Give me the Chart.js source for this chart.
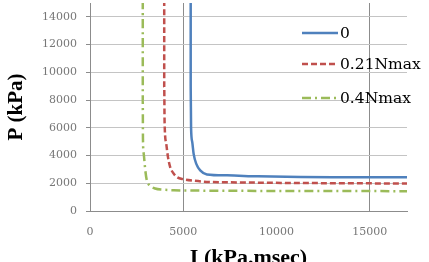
<!DOCTYPE html>
<html>
<head>
<meta charset="utf-8">
<script src="https://cdn.jsdelivr.net/npm/chart.js@4"></script>
<style>
  html, body { margin: 0; padding: 0; background: #fff; }
  #wrap { width: 429px; height: 262px; }
</style>
</head>
<body>
<div id="wrap"><canvas id="myChart"></canvas></div>
<script>
'use strict';

// Data (I in kPa.msec, P in kPa)
let seriesNames = ['0', '0.21Nmax', '0.4Nmax'];

let blueI = [5400, 5400, 5420, 5480, 5560, 5700, 5910, 6270, 7350, 9000, 11300, 14000, 17000];
let blueP = [15200, 9000, 6000, 5000, 4100, 3400, 2930, 2640, 2570, 2500, 2450, 2440, 2430];

let redI = [3980, 3980, 4000, 4090, 4180, 4300, 4460, 4660, 5020, 5600, 6270, 8000, 11000, 14000, 17000];
let redP = [15200, 9000, 6400, 4840, 3900, 3170, 2750, 2450, 2290, 2180, 2100, 2060, 2020, 2000, 1980];

let greenI = [2830, 2830, 2840, 2880, 2960, 3045, 3200, 3495, 3900, 4480, 6000, 9000, 13000, 17000];
let greenP = [15200, 8000, 5200, 4140, 3000, 2210, 1850, 1620, 1540, 1500, 1470, 1450, 1440, 1430];

let yTicks = [0, 2000, 4000, 6000, 8000, 10000, 12000, 14000];
let xTicks = [0, 5000, 10000, 15000];

function toPoints(xs, ys) {
  let pts = [];
  for (let i = 0; i < xs.length; i++) {
    pts.push({ x: xs[i], y: ys[i] });
  }
  return pts;
}

// legend drawn inside the plot, the way the original has it
const insideLegend = {
  id: 'insideLegend',
  afterDatasetsDraw(chart) {
    const ctx = chart.ctx;
    const rows = [33, 64, 98];
    ctx.save();
    chart.data.datasets.forEach((ds, i) => {
      const y = rows[i];
      ctx.strokeStyle = ds.borderColor;
      ctx.lineWidth = 2.5;
      ctx.setLineDash(ds.borderDash || []);
      ctx.beginPath();
      ctx.moveTo(302, y);
      ctx.lineTo(338, y);
      ctx.stroke();
      ctx.setLineDash([]);
      ctx.fillStyle = '#000';
      ctx.font = '15.5px "DejaVu Serif"';
      ctx.textBaseline = 'middle';
      ctx.fillText(ds.label, 340, y + 1);
    });
    ctx.restore();
  }
};

let ctx = document.getElementById('myChart').getContext('2d');
let myChart = new Chart(ctx, {
  type: 'scatter',
  data: {
    datasets: [{
      label: seriesNames[0],
      data: toPoints(blueI, blueP),
      borderColor: '#4F81BD',
      borderWidth: 2.5
    },
    {
      label: seriesNames[1],
      data: toPoints(redI, redP),
      borderColor: '#C0504D',
      borderWidth: 2.5,
      borderDash: [6, 3]
    },
    {
      label: seriesNames[2],
      data: toPoints(greenI, greenP),
      borderColor: '#9BBB59',
      borderWidth: 2.5,
      borderDash: [9, 4, 2, 4]
    }]
  },
  options: {
    responsive: true,
    maintainAspectRatio: false,
    animation: false,
    showLine: true,
    elements: {
      point: { radius: 0, hoverRadius: 0 },
      line: { tension: 0.3, cubicInterpolationMode: 'monotone' }
    },
    layout: { padding: { top: 3, right: 22, left: 0, bottom: 0 } },
    plugins: {
      legend: { display: false },
      tooltip: { enabled: false }
    },
    scales: {
      x: {
        type: 'linear',
        min: 0,
        max: 17000,
        afterBuildTicks(scale) {
          scale.ticks = xTicks.map(v => ({ value: v }));
        },
        afterFit(scale) {
          scale.height = 51;
          scale.paddingLeft = 0;
          scale.paddingRight = 0;
        },
        grid: {
          color: ctx => (ctx.tick && (ctx.tick.value === 5000 || ctx.tick.value === 15000)) ? '#8c8c8c' : 'rgba(0,0,0,0)',
          tickLength: 4,
          tickColor: 'rgba(0,0,0,0)'
        },
        border: { color: '#8c8c8c', width: 1 },
        ticks: {
          color: '#777',
          font: { family: 'DejaVu Serif', size: 11 },
          padding: 11,
          maxRotation: 0,
          callback: v => String(v)
        },
        title: {
          display: true,
          text: 'I (kPa.msec)',
          color: '#000',
          font: { family: 'Liberation Serif', size: 22, weight: 'bold' },
          padding: { top: 2, bottom: -10 }
        }
      },
      y: {
        min: 0,
        max: 15000,
        afterBuildTicks(scale) {
          scale.ticks = yTicks.map(v => ({ value: v }));
        },
        afterFit(scale) {
          scale.width = 90;
          scale.paddingTop = 0;
          scale.paddingBottom = 0;
        },
        grid: {
          color: '#c4c4c4',
          tickLength: 4,
          tickColor: '#8c8c8c'
        },
        border: { color: '#8c8c8c', width: 1 },
        ticks: {
          color: '#777',
          font: { family: 'DejaVu Serif', size: 11 },
          padding: 9,
          callback: v => String(v)
        },
        title: {
          display: true,
          text: 'P (kPa)',
          color: '#000',
          font: { family: 'Liberation Serif', size: 21, weight: 'bold' },
          padding: { top: 4, bottom: 0 }
        }
      }
    }
  },
  plugins: [insideLegend]
});
</script>
</body>
</html>
